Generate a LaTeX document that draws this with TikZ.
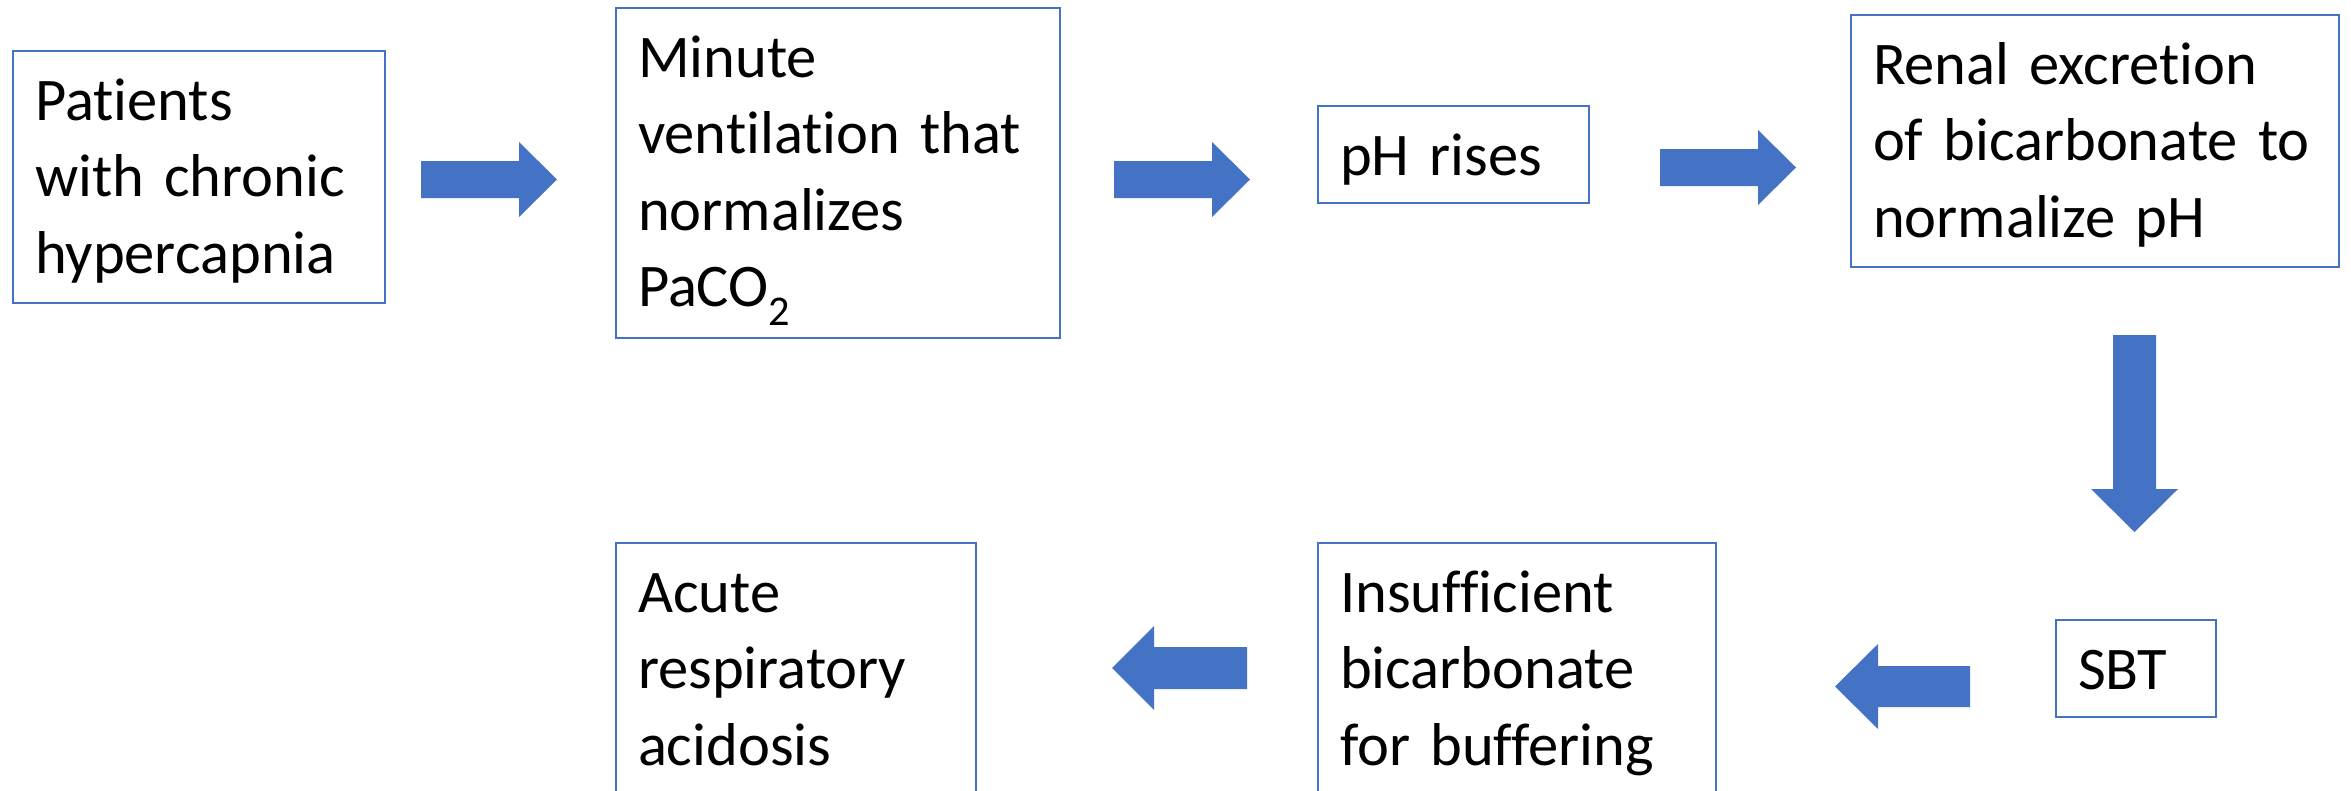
\documentclass[tikz,border=0pt]{standalone}
\usepackage{fontspec}
\setmainfont{Carlito}[Ligatures=NoCommon]
\definecolor{boxblue}{HTML}{4472C4}
\begin{document}
\begin{tikzpicture}[x=1pt,y=-1pt,
  box/.style={draw=boxblue, line width=2pt, rectangle, anchor=north west,
    inner xsep=22pt, inner ysep=0pt, text height=69pt,
    align=left, text=black, font=\fontsize{60.5}{76.5}\selectfont},
  blk/.style={fill=boxblue}]
\clip (0,0) rectangle (2351,790);
\fill[white] (0,0) rectangle (2351,790);

% boxes: placed by their top-left corner; text depth fixes each box height
\node[box, minimum width=372pt, minimum height=252pt, text width=328pt, text depth=183pt] (pat) at (12,50)
  {Patients\\with chronic\\hypercapnia};
\node[box, minimum width=444pt, minimum height=330pt, text width=400pt, text depth=261pt] (mv) at (615,7)
  {Minute\\ventilation that\\normalizes\\PaCO\textsubscript{2}};
\node[box, minimum width=271pt, minimum height=97pt, text width=227pt, text depth=28pt] (ph) at (1317,105)
  {pH rises};
\node[box, minimum width=488pt, minimum height=252pt, text width=444pt, text depth=183pt] (ren) at (1850,14)
  {Renal excretion\\of bicarbonate to\\normalize pH};
\node[box, minimum width=160pt, minimum height=97pt, text width=116pt, text depth=28pt] (sbt) at (2055,619)
  {SBT};
\node[box, minimum width=398pt, minimum height=270pt, text width=354pt, text depth=201pt] (ins) at (1317,542)
  {Insufficient\\bicarbonate\\for buffering};
\node[box, minimum width=360pt, minimum height=270pt, text width=316pt, text depth=201pt] (acu) at (615,542)
  {Acute\\respiratory\\acidosis};

% block arrows
\fill[blk] (421,161) -- (519,161) -- (519,142) -- (557,179.5) -- (519,217) -- (519,198) -- (421,198) -- cycle;
\fill[blk] (1114,161) -- (1212,161) -- (1212,142) -- (1250,179.5) -- (1212,217) -- (1212,198) -- (1114,198) -- cycle;
\fill[blk] (1660,149) -- (1758,149) -- (1758,130) -- (1796,167.5) -- (1758,205) -- (1758,186) -- (1660,186) -- cycle;
\fill[blk] (2113,335) -- (2156,335) -- (2156,489) -- (2178,489) -- (2134.5,532) -- (2091,489) -- (2113,489) -- cycle;
\fill[blk] (1970,666) -- (1878,666) -- (1878,644) -- (1835,686.5) -- (1878,729) -- (1878,707) -- (1970,707) -- cycle;
\fill[blk] (1247,647) -- (1154,647) -- (1154,626) -- (1112,668) -- (1154,710) -- (1154,689) -- (1247,689) -- cycle;
\end{tikzpicture}
\end{document}
